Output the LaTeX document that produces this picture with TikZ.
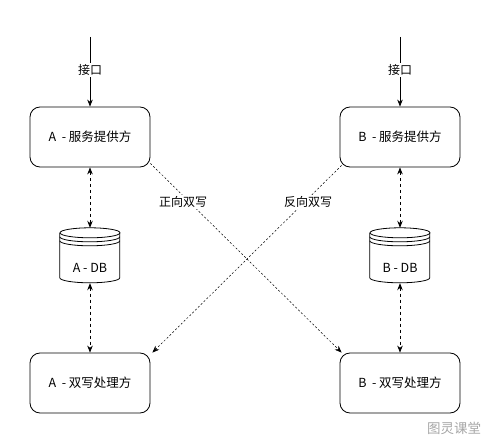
\documentclass[tikz,border=0pt]{standalone}
\usepackage{fontspec}
\setmainfont{Noto Sans CJK SC}
\usepackage{tikz}
\pgfdeclarelayer{nodelayer}
\pgfdeclarelayer{edgelayer}
\pgfsetlayers{edgelayer,nodelayer,main}
\usetikzlibrary{arrows.meta}
\tikzset{
	box/.style={draw, rounded corners=10pt, minimum width=120pt, minimum height=60pt, line width=0.8pt, font=\fontsize{12.5}{15}\selectfont},
	dbbox/.style={minimum width=60pt, minimum height=55pt, inner sep=0pt},
	tag/.style={fill=white, inner sep=1.5pt, font=\fontsize{12}{14}\selectfont},
	flow/.style={-{Stealth[length=7pt,width=5.5pt]}, line width=0.8pt},
	sync/.style={{Stealth[length=7pt,width=5.5pt]}-{Stealth[length=7pt,width=5.5pt]}, line width=0.8pt, dash pattern=on 3pt off 3pt},
	cross/.style={-{Stealth[length=7pt,width=5.5pt]}, line width=0.5pt, dash pattern=on 2pt off 2pt},
}

\begin{document}
\begin{tikzpicture}[x=1pt, y=-1pt]
	\useasboundingbox (0, 0) rectangle (491, 444);
	\begin{pgfonlayer}{nodelayer}
		\node [box] (0) at (90, 137) {A\ \ - 服务提供方};
		\node [box] (1) at (400, 137) {B\ \ - 服务提供方};
		\node [dbbox] (2) at (90, 255.5) {};
		\node [dbbox] (3) at (400, 255.5) {};
		\node [box] (4) at (90, 383) {A\ \ - 双写处理方};
		\node [box] (5) at (400, 383) {B\ \ - 双写处理方};
		\coordinate (6) at (90, 37);
		\coordinate (7) at (400, 37);
		\node [tag] (8) at (90, 70) {接口};
		\node [tag] (9) at (400, 70) {接口};
		\node [tag, fill=none, font=\fontsize{12.5}{15}\selectfont] (10) at (90, 268) {A - DB};
		\node [tag, fill=none, font=\fontsize{12.5}{15}\selectfont] (11) at (400, 268) {B - DB};
		\node [tag] (12) at (183, 202) {正向双写};
		\node [tag] (13) at (308, 202) {反向双写};
		\node [font=\fontsize{13.5}{16}\selectfont, text=gray!70] (14) at (454, 428) {图灵课堂};
	\end{pgfonlayer}
	\begin{pgfonlayer}{edgelayer}
		% cylinders
		\foreach \n in {2, 3} {
			\draw [line width=0.8pt] ([yshift=-5pt]\n.north) ellipse [x radius=30, y radius=5];
			\draw [line width=0.8pt] ([yshift=-9pt]\n.north west) arc [start angle=180, end angle=0, x radius=30, y radius=5];
			\draw [line width=0.8pt] ([yshift=-13pt]\n.north west) arc [start angle=180, end angle=0, x radius=30, y radius=5];
			\draw [line width=0.8pt] (\n.north west) ++(0, 5) -- ++(0, 45) arc [start angle=180, end angle=0, x radius=30, y radius=5] -- ++(0, -45);
		}
		\draw [flow] (6) to (0.north);
		\draw [flow] (7) to (1.north);
		\draw [sync] (0.south) to (2.north);
		\draw [sync] (2.south) to (4.north);
		\draw [sync] (1.south) to (3.north);
		\draw [sync] (3.south) to (5.north);
		\draw [cross] ([yshift=4pt]0.south east) to ([xshift=2pt]5.north west);
		\draw [cross] ([xshift=2pt, yshift=2pt]1.south west) to ([xshift=2pt]4.north east);
	\end{pgfonlayer}
\end{tikzpicture}
\end{document}
